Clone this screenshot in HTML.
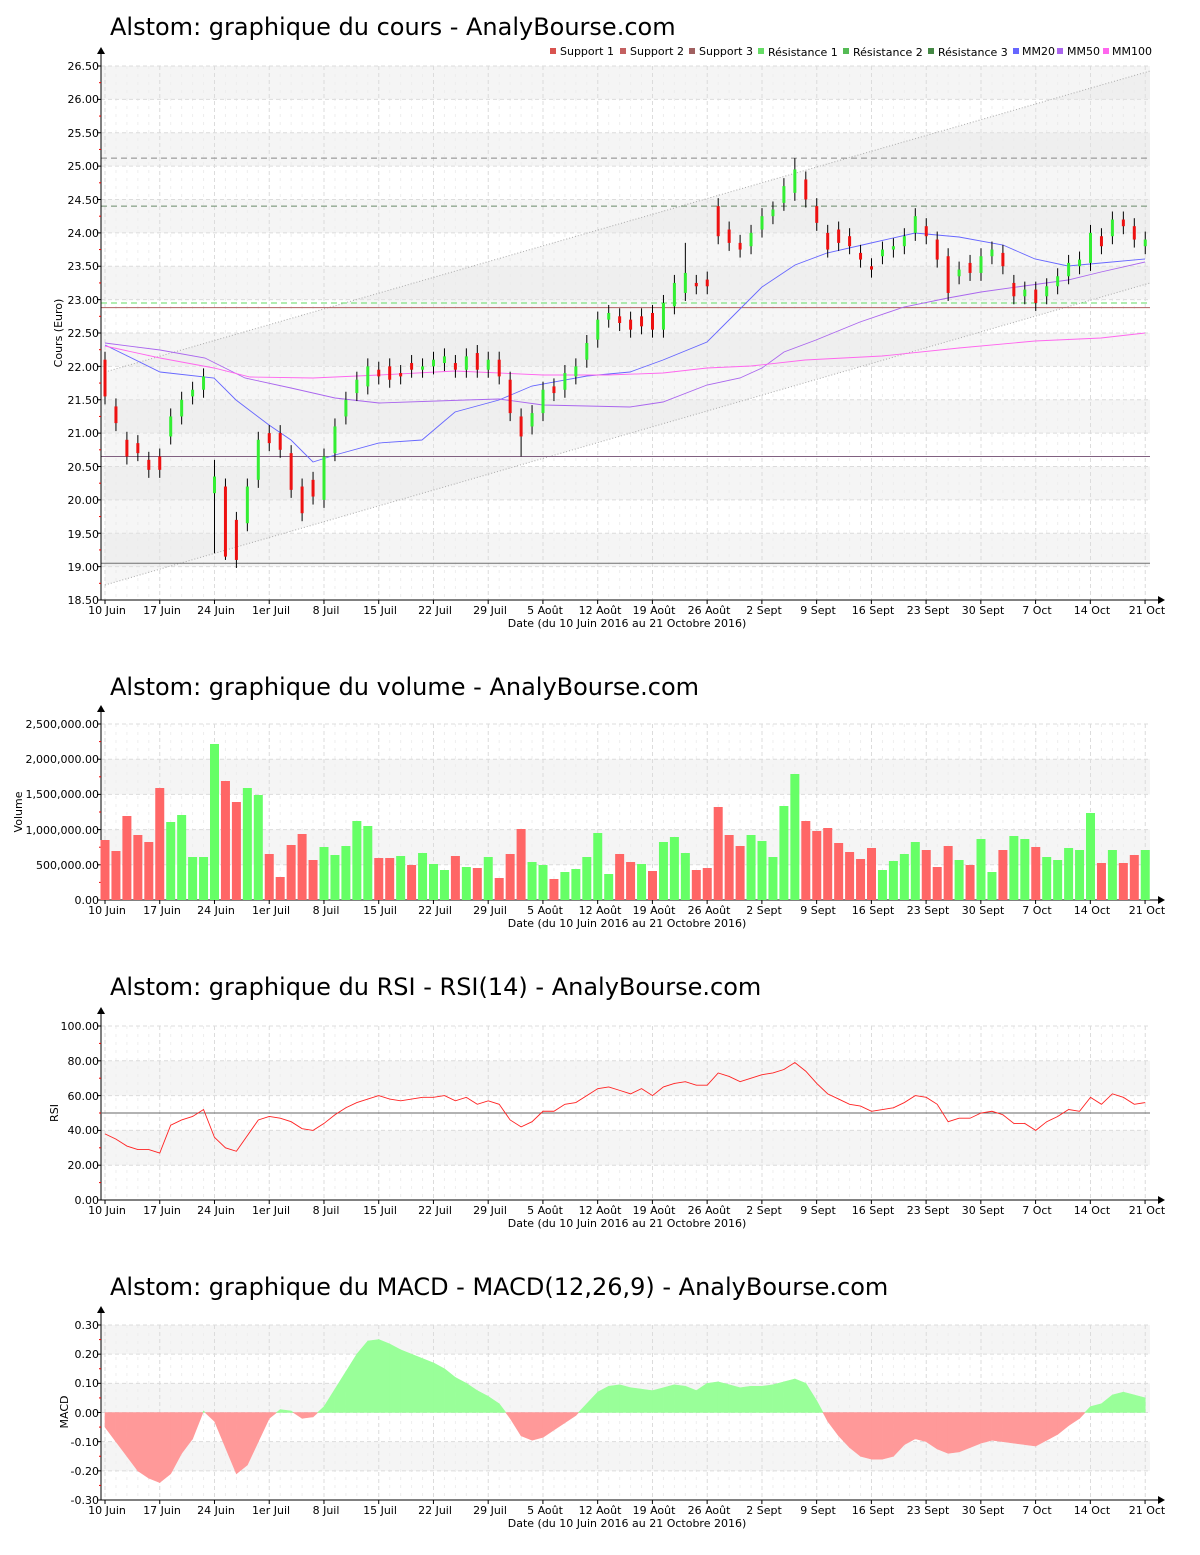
<!DOCTYPE html>
<html><head><meta charset="utf-8"><style>
body{margin:0;background:#fff}
svg text{font-family:"DejaVu Sans","Liberation Sans",sans-serif;font-size:11px;fill:#000}
.t{font-size:24px}
.yl{text-anchor:end}
.xl{text-anchor:middle}
.lg{font-size:11px}
</style></head><body>
<svg id="s" width="1200" height="1550" xmlns="http://www.w3.org/2000/svg">
<g id="bg"></g>
<text class="t" x="110" y="35">Alstom: graphique du cours - AnalyBourse.com</text>
<text class="t" x="110" y="695">Alstom: graphique du volume - AnalyBourse.com</text>
<text class="t" x="110" y="995">Alstom: graphique du RSI - RSI(14) - AnalyBourse.com</text>
<text class="t" x="110" y="1295">Alstom: graphique du MACD - MACD(12,26,9) - AnalyBourse.com</text>
<g class="lg">
<rect x="550" y="48" width="6" height="6" fill="#d9534f"/><text x="560" y="55">Support 1</text>
<rect x="620" y="48" width="6" height="6" fill="#c46060"/><text x="630" y="55">Support 2</text>
<rect x="689" y="48" width="6" height="6" fill="#a06060"/><text x="699" y="55">Support 3</text>
<rect x="758" y="48" width="6" height="6" fill="#66dd66"/><text x="768" y="56">Résistance 1</text>
<rect x="843" y="48" width="6" height="6" fill="#55bb55"/><text x="853" y="56">Résistance 2</text>
<rect x="928" y="48" width="6" height="6" fill="#448844"/><text x="938" y="56">Résistance 3</text>
<rect x="1013" y="48" width="6" height="6" fill="#6666ff"/><text x="1022" y="55">MM20</text>
<rect x="1057" y="48" width="6" height="6" fill="#aa66ee"/><text x="1067" y="55">MM50</text>
<rect x="1103" y="48" width="6" height="6" fill="#ff66ee"/><text x="1112" y="55">MM100</text>
</g>
<g id="fg"></g>
<g id="ylab">
<text class="yl" x="99" y="70">26.50</text><text class="yl" x="99" y="103">26.00</text><text class="yl" x="99" y="137">25.50</text><text class="yl" x="99" y="170">25.00</text><text class="yl" x="99" y="204">24.50</text><text class="yl" x="99" y="237">24.00</text><text class="yl" x="99" y="270">23.50</text><text class="yl" x="99" y="304">23.00</text><text class="yl" x="99" y="337">22.50</text><text class="yl" x="99" y="371">22.00</text><text class="yl" x="99" y="404">21.50</text><text class="yl" x="99" y="437">21.00</text><text class="yl" x="99" y="471">20.50</text><text class="yl" x="99" y="504">20.00</text><text class="yl" x="99" y="538">19.50</text><text class="yl" x="99" y="571">19.00</text><text class="yl" x="99" y="604">18.50</text>
<text class="yl" x="99" y="728">2,500,000.00</text><text class="yl" x="99" y="763">2,000,000.00</text><text class="yl" x="99" y="798">1,500,000.00</text><text class="yl" x="99" y="834">1,000,000.00</text><text class="yl" x="99" y="869">500,000.00</text><text class="yl" x="99" y="904">0.00</text>
<text class="yl" x="99" y="1030">100.00</text><text class="yl" x="99" y="1065">80.00</text><text class="yl" x="99" y="1100">60.00</text><text class="yl" x="99" y="1134">40.00</text><text class="yl" x="99" y="1169">20.00</text><text class="yl" x="99" y="1204">0.00</text>
<text class="yl" x="99" y="1329">0.30</text><text class="yl" x="99" y="1358">0.20</text><text class="yl" x="99" y="1387">0.10</text><text class="yl" x="99" y="1417">0.00</text><text class="yl" x="99" y="1446">-0.10</text><text class="yl" x="99" y="1475">-0.20</text><text class="yl" x="99" y="1504">-0.30</text>
</g>
<text transform="translate(62,333) rotate(-90)" class="xl">Cours (Euro)</text>
<text transform="translate(22,812) rotate(-90)" class="xl">Volume</text>
<text transform="translate(58,1113) rotate(-90)" class="xl">RSI</text>
<text transform="translate(68,1412) rotate(-90)" class="xl">MACD</text>
<g class="xl"><text x="107" y="614">10 Juin</text><text x="162" y="614">17 Juin</text><text x="216" y="614">24 Juin</text><text x="271" y="614">1er Juil</text><text x="326" y="614">8 Juil</text><text x="380" y="614">15 Juil</text><text x="435" y="614">22 Juil</text><text x="490" y="614">29 Juil</text><text x="545" y="614">5 Août</text><text x="600" y="614">12 Août</text><text x="654" y="614">19 Août</text><text x="709" y="614">26 Août</text><text x="764" y="614">2 Sept</text><text x="818" y="614">9 Sept</text><text x="873" y="614">16 Sept</text><text x="928" y="614">23 Sept</text><text x="983" y="614">30 Sept</text><text x="1037" y="614">7 Oct</text><text x="1092" y="614">14 Oct</text><text x="1147" y="614">21 Oct</text><text x="627" y="627">Date (du 10 Juin 2016 au 21 Octobre 2016)</text></g>
<g class="xl"><text x="107" y="914">10 Juin</text><text x="162" y="914">17 Juin</text><text x="216" y="914">24 Juin</text><text x="271" y="914">1er Juil</text><text x="326" y="914">8 Juil</text><text x="380" y="914">15 Juil</text><text x="435" y="914">22 Juil</text><text x="490" y="914">29 Juil</text><text x="545" y="914">5 Août</text><text x="600" y="914">12 Août</text><text x="654" y="914">19 Août</text><text x="709" y="914">26 Août</text><text x="764" y="914">2 Sept</text><text x="818" y="914">9 Sept</text><text x="873" y="914">16 Sept</text><text x="928" y="914">23 Sept</text><text x="983" y="914">30 Sept</text><text x="1037" y="914">7 Oct</text><text x="1092" y="914">14 Oct</text><text x="1147" y="914">21 Oct</text><text x="627" y="927">Date (du 10 Juin 2016 au 21 Octobre 2016)</text></g>
<g class="xl"><text x="107" y="1214">10 Juin</text><text x="162" y="1214">17 Juin</text><text x="216" y="1214">24 Juin</text><text x="271" y="1214">1er Juil</text><text x="326" y="1214">8 Juil</text><text x="380" y="1214">15 Juil</text><text x="435" y="1214">22 Juil</text><text x="490" y="1214">29 Juil</text><text x="545" y="1214">5 Août</text><text x="600" y="1214">12 Août</text><text x="654" y="1214">19 Août</text><text x="709" y="1214">26 Août</text><text x="764" y="1214">2 Sept</text><text x="818" y="1214">9 Sept</text><text x="873" y="1214">16 Sept</text><text x="928" y="1214">23 Sept</text><text x="983" y="1214">30 Sept</text><text x="1037" y="1214">7 Oct</text><text x="1092" y="1214">14 Oct</text><text x="1147" y="1214">21 Oct</text><text x="627" y="1227">Date (du 10 Juin 2016 au 21 Octobre 2016)</text></g>
<g class="xl"><text x="107" y="1514">10 Juin</text><text x="162" y="1514">17 Juin</text><text x="216" y="1514">24 Juin</text><text x="271" y="1514">1er Juil</text><text x="326" y="1514">8 Juil</text><text x="380" y="1514">15 Juil</text><text x="435" y="1514">22 Juil</text><text x="490" y="1514">29 Juil</text><text x="545" y="1514">5 Août</text><text x="600" y="1514">12 Août</text><text x="654" y="1514">19 Août</text><text x="709" y="1514">26 Août</text><text x="764" y="1514">2 Sept</text><text x="818" y="1514">9 Sept</text><text x="873" y="1514">16 Sept</text><text x="928" y="1514">23 Sept</text><text x="983" y="1514">30 Sept</text><text x="1037" y="1514">7 Oct</text><text x="1092" y="1514">14 Oct</text><text x="1147" y="1514">21 Oct</text><text x="627" y="1527">Date (du 10 Juin 2016 au 21 Octobre 2016)</text></g>
</svg>
<script>
var bg='',fg='',bg2='';
var X0=105,DX=10.95,WK=54.74;
function X(i){return X0+i*DX;}
function panel(top,bot,n,greyFirst){
  var h=(bot-top)/n;
  for(var k=0;k<n;k++){var g=(k%2==0)==greyFirst;if(g)bg+='<rect x="101" y="'+(top+k*h)+'" width="1049" height="'+h+'" fill="#f5f5f5"/>';}
  for(var d=0;d<96;d++){var x=X(d);bg+='<line x1="'+x+'" y1="'+top+'" x2="'+x+'" y2="'+bot+'" stroke="'+(d%5==0?'#dcdcdc':'#eeeeee')+'" stroke-dasharray="'+(d%5==0?'4,3':'3,5')+'"/>';}
  for(var k=0;k<=n;k++){var y=top+k*h;bg+='<line x1="101" y1="'+y+'" x2="1150" y2="'+y+'" stroke="#dcdcdc" stroke-dasharray="4,3"/>';}
  fg+='<line x1="101" y1="'+(top-14)+'" x2="101" y2="'+bot+'" stroke="#000"/><line x1="101" y1="'+bot+'" x2="1160" y2="'+bot+'" stroke="#000"/>';
  fg+='<polygon points="97,'+(top-12)+' 105,'+(top-12)+' 101,'+(top-19)+'" fill="#000"/>';
  fg+='<polygon points="1158,'+(bot-4)+' 1158,'+(bot+4)+' 1165,'+bot+'" fill="#000"/>';
  for(var k=0;k<=n;k++){var y=top+k*h;fg+='<line x1="97" y1="'+y+'" x2="101" y2="'+y+'" stroke="#000"/>';if(k<n)fg+='<line x1="99" y1="'+(y+h/2)+'" x2="101" y2="'+(y+h/2)+'" stroke="#e00"/>';}
  for(var w=0;w<20;w++){var x=X0+w*WK;fg+='<line x1="'+x+'" y1="'+bot+'" x2="'+x+'" y2="'+(bot+4)+'" stroke="#000"/>';}
}
panel(66,600,16,true);
panel(724,900,5,false);
panel(1026,1200,5,false);
panel(1325,1500,6,true);
function PY(p){return 66+(26.5-p)*66.75;}
bg+='<polygon points="105,372 1150,71 1150,283 105,585" fill="#e6e6e6" opacity="0.35"/>';
bg+='<line x1="105" y1="372" x2="1150" y2="71" stroke="#aaa" stroke-dasharray="1,2"/><line x1="105" y1="585" x2="1150" y2="283" stroke="#aaa" stroke-dasharray="1,2"/>';
function hl(p,c,d){bg+='<line x1="101" y1="'+PY(p)+'" x2="1150" y2="'+PY(p)+'" stroke="'+c+'"'+(d?' stroke-dasharray="6,4"':'')+'/>';}
hl(25.12,'#888',1);hl(24.4,'#6a8a6a',1);hl(22.95,'#66dd66',1);hl(22.88,'#b06060',0);hl(20.65,'#806080',0);hl(19.05,'#707070',0);
var C=[[22.1,21.55],[21.4,21.15],[20.9,20.65],[20.85,20.7],[20.6,20.45],[20.65,20.45],[20.95,21.25],[21.25,21.5],[21.55,21.65],[21.65,21.85],[20.1,20.35],[20.2,19.15],[19.7,19.1],[19.65,20.2],[20.3,20.9],[21.0,20.85],[21.0,20.75],[20.7,20.15],[20.2,19.8],[20.3,20.05],[20.0,20.65],[20.7,21.1],[21.25,21.5],[21.6,21.8],[21.7,22.0],[21.95,21.85],[22.0,21.8],[21.9,21.85],[22.05,21.95],[21.95,22.0],[22.0,22.1],[22.05,22.15],[22.05,21.95],[21.95,22.15],[22.2,21.95],[21.95,22.1],[22.1,21.85],[21.8,21.3],[21.25,20.95],[21.1,21.3],[21.3,21.65],[21.7,21.6],[21.65,21.9],[21.85,22.0],[22.1,22.35],[22.4,22.7],[22.7,22.8],[22.75,22.65],[22.7,22.55],[22.75,22.6],[22.8,22.55],[22.55,22.95],[22.9,23.25],[23.1,23.4],[23.25,23.2],[23.3,23.2],[24.4,23.95],[24.05,23.85],[23.85,23.75],[23.8,24.0],[24.05,24.25],[24.25,24.35],[24.45,24.7],[24.6,24.95],[24.8,24.5],[24.4,24.15],[24.0,23.75],[24.05,23.85],[23.95,23.8],[23.7,23.6],[23.5,23.45],[23.65,23.75],[23.75,23.8],[23.8,23.95],[24.0,24.25],[24.1,23.95],[23.9,23.6],[23.65,23.1],[23.35,23.45],[23.55,23.4],[23.4,23.65],[23.65,23.75],[23.7,23.5],[23.25,23.05],[23.05,23.15],[23.15,22.95],[23.05,23.2],[23.2,23.35],[23.35,23.55],[23.5,23.6],[23.55,24.0],[23.95,23.8],[23.95,24.2],[24.2,24.1],[24.1,23.9],[23.8,23.9]];
function pl(pts,c){fg+='<polyline points="'+pts+'" fill="none" stroke="'+c+'" stroke-width="0.9"/>';}
pl('105,345 160,372 214,378 236,400 269,425 291,440 313,462 335,455 379,443 422,440 455,412 499,400 532,386 587,376 630,372 663,360 707,342 729,320 762,287 795,265 827,253 871,243 915,233 959,237 1003,245 1035,259 1068,266 1101,263 1145,259','#6666ff');
pl('105,343 160,350 205,358 245,378 291,388 335,398 379,403 466,400 499,399 543,405 587,406 630,407 663,402 707,385 740,378 762,368 784,352 816,340 860,322 904,307 948,298 981,292 1024,286 1068,280 1101,272 1145,262','#aa66ee');
pl('105,346 160,358 214,368 250,377 313,378 379,375 455,371 543,375 608,375 663,373 707,368 751,366 805,360 882,356 959,348 1035,341 1101,338 1145,333','#ff66ee');
for(var i=0;i<C.length;i++){var o=C[i][0],c=C[i][1],x=X(i),hi=Math.max(o,c)+0.12,lo=Math.min(o,c)-0.12;
 if(i==10){hi=20.6;lo=19.2;} if(i==11)lo=19.1; if(i==38)lo=20.65; if(i==53)hi=23.85; if(i==63)hi=25.12;
 fg+='<line x1="'+x+'" y1="'+PY(hi)+'" x2="'+x+'" y2="'+PY(lo)+'" stroke="#000"/>';
 var t=PY(Math.max(o,c)),b=PY(Math.min(o,c));fg+='<rect x="'+(x-1.5)+'" y="'+t+'" width="3" height="'+Math.max(b-t,2)+'" fill="'+(c>=o?'#33ee33':'#ee1111')+'"/>';}
var V=[840,851,816,835,842,788,822,815,857,857,744,781,802,788,795,854,877,845,834,860,847,855,846,821,826,858,858,856,865,853,864,870,856,867,868,857,878,854,829,862,865,879,872,869,857,833,874,854,862,864,871,842,837,853,870,868,807,835,846,835,841,857,806,774,821,831,828,843,852,859,848,870,861,854,842,850,867,846,860,865,839,872,850,836,839,847,857,860,848,850,813,863,850,863,855,850];
var VC='rrrrrrgggggrrggrrrrrgggggrrgrgggrgrgrrrggrgggggrrgrgggrrrrrgggggrrrrrrrggggrrrgrggrggrgggggrgrrg';
for(var i=0;i<96;i++){var g=VC[i]=='g';fg+='<rect x="'+(X(i)-4.5)+'" y="'+V[i]+'" width="9" height="'+(900-V[i])+'" fill="'+(g?'#66ff66':'#ff6666')+'"/>';}
var R=[38,35,31,29,29,27,43,46,48,52,36,30,28,37,46,48,47,45,41,40,44,49,53,56,58,60,58,57,58,59,59,60,57,59,55,57,55,46,42,45,51,51,55,56,60,64,65,63,61,64,60,65,67,68,66,66,73,71,68,70,72,73,75,79,74,67,61,58,55,54,51,52,53,56,60,59,55,45,47,47,50,51,49,44,44,40,45,48,52,51,59,55,61,59,55,56];
var rp='';for(var i=0;i<96;i++)rp+=X(i)+','+(1200-R[i]*1.74)+' ';
fg+='<line x1="101" y1="1113" x2="1150" y2="1113" stroke="#666"/>';
pl(rp,'#ff2222');
var M=[-0.05,-0.10,-0.15,-0.20,-0.225,-0.24,-0.21,-0.14,-0.09,0.005,-0.03,-0.12,-0.21,-0.18,-0.10,-0.02,0.01,0.005,-0.02,-0.015,0.02,0.08,0.14,0.20,0.245,0.25,0.235,0.215,0.20,0.185,0.17,0.15,0.12,0.10,0.075,0.055,0.03,-0.02,-0.08,-0.095,-0.085,-0.06,-0.035,-0.01,0.03,0.07,0.09,0.095,0.085,0.08,0.075,0.085,0.095,0.09,0.075,0.10,0.105,0.095,0.085,0.09,0.09,0.095,0.105,0.115,0.10,0.04,-0.03,-0.08,-0.12,-0.15,-0.16,-0.16,-0.15,-0.11,-0.09,-0.10,-0.125,-0.14,-0.135,-0.12,-0.105,-0.095,-0.10,-0.105,-0.11,-0.115,-0.095,-0.075,-0.045,-0.02,0.02,0.03,0.06,0.07,0.06,0.05];
var Z=1412.5;
function seg(xa,va,xb,vb){var col=(va+vb)>=0?'#99ff99':'#ff9999';bg2+='<polygon points="'+xa+','+Z+' '+xa+','+(Z-va*291.7)+' '+xb+','+(Z-vb*291.7)+' '+xb+','+Z+'" fill="'+col+'" stroke="'+col+'" stroke-width="0.6"/>';}
for(var i=0;i<95;i++){var x1=X(i),x2=X(i+1),a=M[i],b=M[i+1];
 if(a*b<0){var xm=x1+(x2-x1)*a/(a-b);seg(x1,a,xm,0);seg(xm,0,x2,b);}else seg(x1,a,x2,b);}
document.getElementById('bg').innerHTML=bg+bg2;
document.getElementById('fg').innerHTML=fg;
</script>
</body></html>
